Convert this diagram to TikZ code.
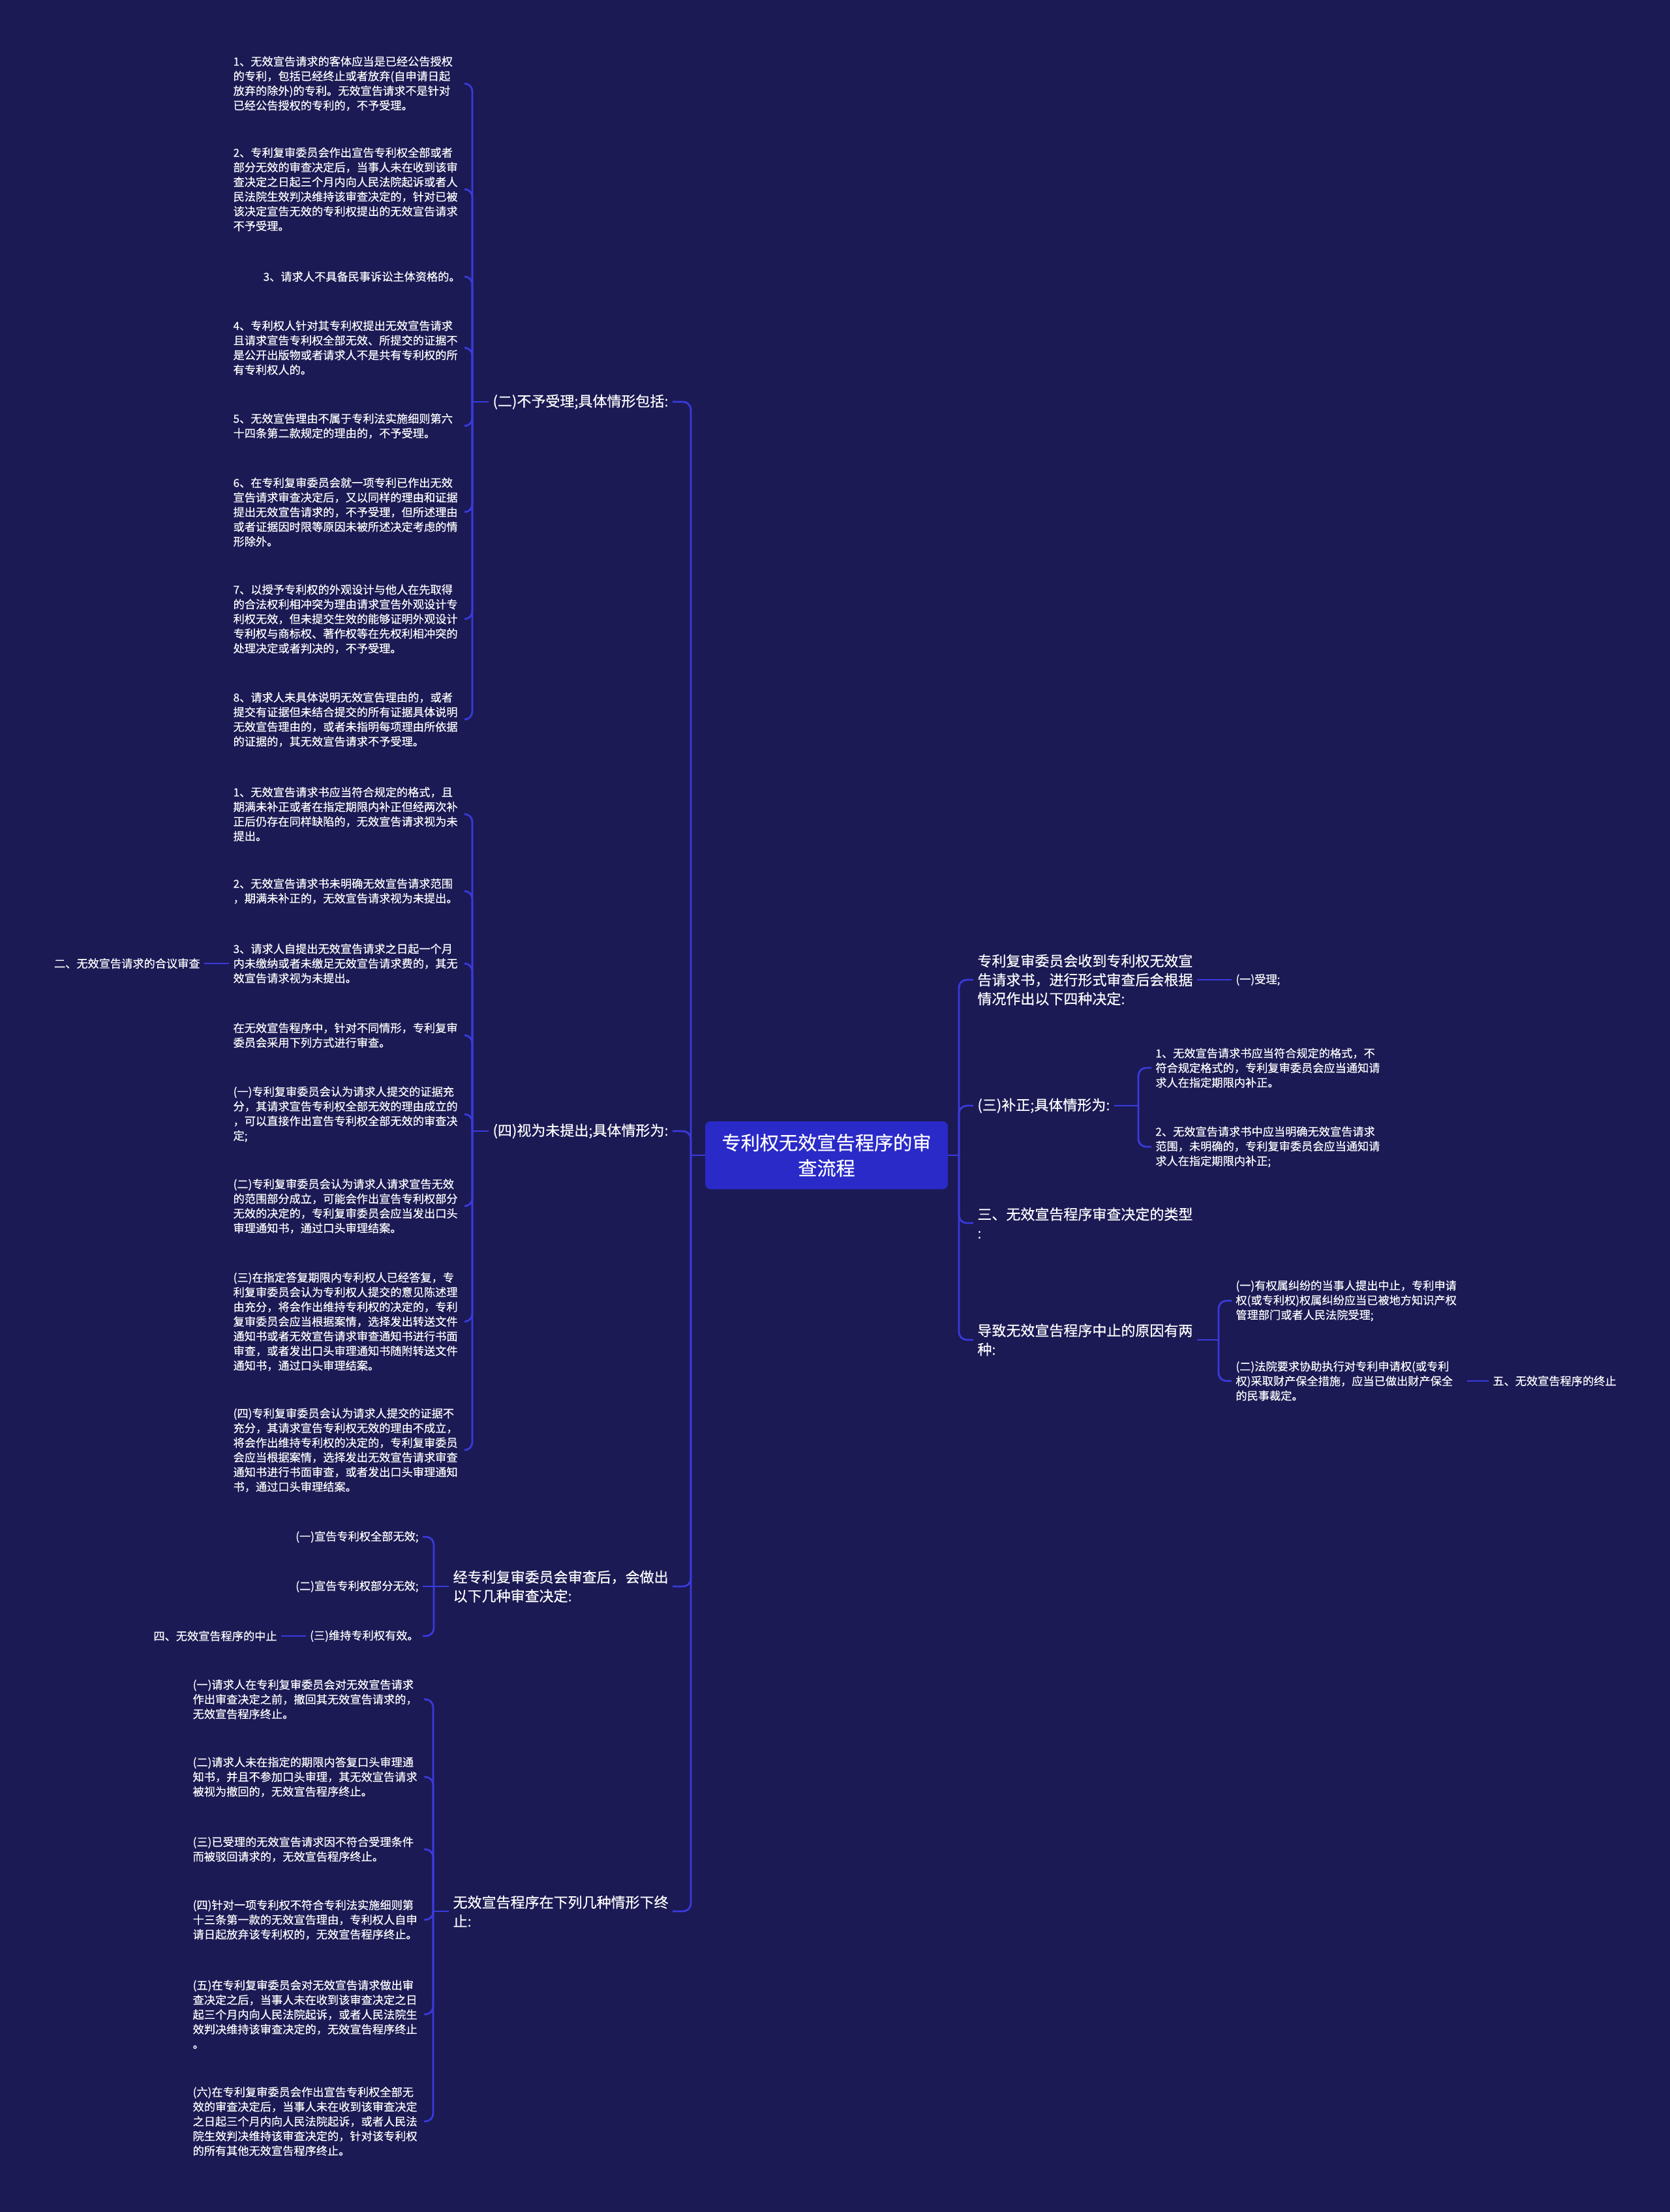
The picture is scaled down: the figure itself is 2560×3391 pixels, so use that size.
\documentclass[tikz,border=0pt]{standalone}
\usepackage{fontspec}
\setmainfont{Noto Sans CJK SC}[FakeBold=0.3]
\definecolor{bgc}{RGB}{27,26,84}
\definecolor{linec}{RGB}{58,58,222}
\definecolor{rootc}{RGB}{42,42,200}
\begin{document}
\begin{tikzpicture}[x=0.5pt,y=-0.5pt,
  conn/.style={draw=linec,line width=1.4pt,rounded corners=6pt},
  leaf/.style={text=white,font=\fontsize{8.6}{11.25}\selectfont,inner sep=3pt,align=left},
  leafw/.style={leaf,text width=174pt},
  mid/.style={text=white,font=\fontsize{11}{14.5}\selectfont,inner sep=3pt,align=left},
  rootbox/.style={fill=rootc,text=white,rounded corners=4pt,font=\fontsize{14.6}{19.5}\selectfont,align=center,minimum width=186pt,minimum height=52pt,inner sep=3pt}]
\fill[bgc] (0,0) rectangle (2560,3391);
\useasboundingbox (0,0) rectangle (2560,3391);

\node[rootbox] (root) at (1267,1771) {专利权无效宣告程序的审\\查流程};
\coordinate (tR) at (1470,1771);
\coordinate (tL) at (1059,1771);

% ---------- right side ----------
\node[mid,anchor=west] (r1) at (1492,1502) {专利复审委员会收到专利权无效宣\\告请求书，进行形式审查后会根据\\情况作出以下四种决定:};
\node[leaf,anchor=west] (r1a) at (1888,1502) {(一)受理;};
\node[mid,anchor=west] (r2) at (1492,1695) {(三)补正;具体情形为:};
\coordinate (b2) at (1745,1695);
\node[leafw,anchor=west] (r2a) at (1765,1637) {1、无效宣告请求书应当符合规定的格式，不\\符合规定格式的，专利复审委员会应当通知请\\求人在指定期限内补正。};
\node[leafw,anchor=west] (r2b) at (1765,1758) {2、无效宣告请求书中应当明确无效宣告请求\\范围，未明确的，专利复审委员会应当通知请\\求人在指定期限内补正;};
\node[mid,anchor=west] (r3) at (1492,1875) {三、无效宣告程序审查决定的类型\\:};
\node[mid,anchor=west] (r4) at (1492,2054) {导致无效宣告程序中止的原因有两\\种:};
\coordinate (b4) at (1868,2054);
\node[leafw,anchor=west] (r4a) at (1888,1994) {(一)有权属纠纷的当事人提出中止，专利申请\\权(或专利权)权属纠纷应当已被地方知识产权\\管理部门或者人民法院受理;};
\node[leafw,anchor=west] (r4b) at (1888,2117) {(二)法院要求协助执行对专利申请权(或专利\\权)采取财产保全措施，应当已做出财产保全\\的民事裁定。};
\node[leaf,anchor=west] (r5) at (2282,2117) {五、无效宣告程序的终止};

\draw[conn] (root.east) -- (tR);
\draw[conn] (tR) |- (r1.west);
\draw[conn] (tR) |- (r2.west);
\draw[conn] (tR) |- (r3.west);
\draw[conn] (tR) |- (r4.west);
\draw[conn] (r1.east) -- (r1a.west);
\draw[conn] (r2.east) -- (b2);
\draw[conn] (b2) |- (r2a.west);
\draw[conn] (b2) |- (r2b.west);
\draw[conn] (r4.east) -- (b4);
\draw[conn] (b4) |- (r4a.west);
\draw[conn] (b4) |- (r4b.west);
\draw[conn] (r4b.east) -- (r5.west);

% ---------- left side ----------
\node[mid,anchor=east] (l1) at (1031,616) {(二)不予受理;具体情形包括:};
\coordinate (b1) at (724,616);
\node[leafw,anchor=east] (l1c1) at (712,128) {1、无效宣告请求的客体应当是已经公告授权\\的专利，包括已经终止或者放弃(自申请日起\\放弃的除外)的专利。无效宣告请求不是针对\\已经公告授权的专利的，不予受理。};
\node[leafw,anchor=east] (l1c2) at (712,290) {2、专利复审委员会作出宣告专利权全部或者\\部分无效的审查决定后，当事人未在收到该审\\查决定之日起三个月内向人民法院起诉或者人\\民法院生效判决维持该审查决定的，针对已被\\该决定宣告无效的专利权提出的无效宣告请求\\不予受理。};
\node[leaf,anchor=east] (l1c3) at (712,424) {3、请求人不具备民事诉讼主体资格的。};
\node[leafw,anchor=east] (l1c4) at (712,533) {4、专利权人针对其专利权提出无效宣告请求\\且请求宣告专利权全部无效、所提交的证据不\\是公开出版物或者请求人不是共有专利权的所\\有专利权人的。};
\node[leafw,anchor=east] (l1c5) at (712,653) {5、无效宣告理由不属于专利法实施细则第六\\十四条第二款规定的理由的，不予受理。};
\node[leafw,anchor=east] (l1c6) at (712,785) {6、在专利复审委员会就一项专利已作出无效\\宣告请求审查决定后，又以同样的理由和证据\\提出无效宣告请求的，不予受理，但所述理由\\或者证据因时限等原因未被所述决定考虑的情\\形除外。};
\node[leafw,anchor=east] (l1c7) at (712,949) {7、以授予专利权的外观设计与他人在先取得\\的合法权利相冲突为理由请求宣告外观设计专\\利权无效，但未提交生效的能够证明外观设计\\专利权与商标权、著作权等在先权利相冲突的\\处理决定或者判决的，不予受理。};
\node[leafw,anchor=east] (l1c8) at (712,1103) {8、请求人未具体说明无效宣告理由的，或者\\提交有证据但未结合提交的所有证据具体说明\\无效宣告理由的，或者未指明每项理由所依据\\的证据的，其无效宣告请求不予受理。};

\node[mid,anchor=east] (l2) at (1031,1734) {(四)视为未提出;具体情形为:};
\coordinate (bb2) at (724,1734);
\node[leafw,anchor=east] (l2c1) at (712,1248) {1、无效宣告请求书应当符合规定的格式，且\\期满未补正或者在指定期限内补正但经两次补\\正后仍存在同样缺陷的，无效宣告请求视为未\\提出。};
\node[leafw,anchor=east] (l2c2) at (712,1366) {2、无效宣告请求书未明确无效宣告请求范围\\，期满未补正的，无效宣告请求视为未提出。};
\node[leafw,anchor=east] (l2c3) at (712,1477) {3、请求人自提出无效宣告请求之日起一个月\\内未缴纳或者未缴足无效宣告请求费的，其无\\效宣告请求视为未提出。};
\node[leafw,anchor=east] (l2c4) at (712,1587) {在无效宣告程序中，针对不同情形，专利复审\\委员会采用下列方式进行审查。};
\node[leafw,anchor=east] (l2c5) at (712,1708) {(一)专利复审委员会认为请求人提交的证据充\\分，其请求宣告专利权全部无效的理由成立的\\，可以直接作出宣告专利权全部无效的审查决\\定;};
\node[leafw,anchor=east] (l2c6) at (712,1849) {(二)专利复审委员会认为请求人请求宣告无效\\的范围部分成立，可能会作出宣告专利权部分\\无效的决定的，专利复审委员会应当发出口头\\审理通知书，通过口头审理结案。};
\node[leafw,anchor=east] (l2c7) at (712,2026) {(三)在指定答复期限内专利权人已经答复，专\\利复审委员会认为专利权人提交的意见陈述理\\由充分，将会作出维持专利权的决定的，专利\\复审委员会应当根据案情，选择发出转送文件\\通知书或者无效宣告请求审查通知书进行书面\\审查，或者发出口头审理通知书随附转送文件\\通知书，通过口头审理结案。};
\node[leafw,anchor=east] (l2c8) at (712,2223) {(四)专利复审委员会认为请求人提交的证据不\\充分，其请求宣告专利权无效的理由不成立，\\将会作出维持专利权的决定的，专利复审委员\\会应当根据案情，选择发出无效宣告请求审查\\通知书进行书面审查，或者发出口头审理通知\\书，通过口头审理结案。};
\node[leaf,anchor=east] (x2) at (313,1477) {二、无效宣告请求的合议审查};

\node[mid,anchor=east] (l3) at (1031,2432) {经专利复审委员会审查后，会做出\\以下几种审查决定:};
\coordinate (b3) at (665,2432);
\node[leaf,anchor=east] (l3c1) at (648,2356) {(一)宣告专利权全部无效;};
\node[leaf,anchor=east] (l3c2) at (648,2432) {(二)宣告专利权部分无效;};
\node[leaf,anchor=east] (l3c3) at (648,2508) {(三)维持专利权有效。};
\node[leaf,anchor=east] (x4) at (431,2508) {四、无效宣告程序的中止};

\node[mid,anchor=east] (l4) at (1031,2930) {无效宣告程序在下列几种情形下终\\止:};
\coordinate (b5) at (664,2930);
\node[leafw,anchor=east] (l4c1) at (650,2605) {(一)请求人在专利复审委员会对无效宣告请求\\作出审查决定之前，撤回其无效宣告请求的，\\无效宣告程序终止。};
\node[leafw,anchor=east] (l4c2) at (650,2724) {(二)请求人未在指定的期限内答复口头审理通\\知书，并且不参加口头审理，其无效宣告请求\\被视为撤回的，无效宣告程序终止。};
\node[leafw,anchor=east] (l4c3) at (650,2835) {(三)已受理的无效宣告请求因不符合受理条件\\而被驳回请求的，无效宣告程序终止。};
\node[leafw,anchor=east] (l4c4) at (650,2943) {(四)针对一项专利权不符合专利法实施细则第\\十三条第一款的无效宣告理由，专利权人自申\\请日起放弃该专利权的，无效宣告程序终止。};
\node[leafw,anchor=east] (l4c5) at (650,3088) {(五)在专利复审委员会对无效宣告请求做出审\\查决定之后，当事人未在收到该审查决定之日\\起三个月内向人民法院起诉，或者人民法院生\\效判决维持该审查决定的，无效宣告程序终止\\。};
\node[leafw,anchor=east] (l4c6) at (650,3252) {(六)在专利复审委员会作出宣告专利权全部无\\效的审查决定后，当事人未在收到该审查决定\\之日起三个月内向人民法院起诉，或者人民法\\院生效判决维持该审查决定的，针对该专利权\\的所有其他无效宣告程序终止。};

\draw[conn] (root.west) -- (tL);
\draw[conn] (tL) |- (l1.east);
\draw[conn] (tL) |- (l2.east);
\draw[conn] (tL) |- (l3.east);
\draw[conn] (tL) |- (l4.east);

\draw[conn] (l1.west) -- (b1);
\foreach \n in {l1c1,l1c2,l1c3,l1c4,l1c5,l1c6,l1c7,l1c8} \draw[conn] (b1) |- (\n.east);

\draw[conn] (l2.west) -- (bb2);
\foreach \n in {l2c1,l2c2,l2c3,l2c4,l2c5,l2c6,l2c7,l2c8} \draw[conn] (bb2) |- (\n.east);
\draw[conn] (l2c3.west) -- (x2.east);

\draw[conn] (l3.west) -- (b3);
\draw[conn] (b3) |- (l3c1.east);
\draw[conn] (b3) -- (l3c2.east);
\draw[conn] (b3) |- (l3c3.east);
\draw[conn] (l3c3.west) -- (x4.east);

\draw[conn] (l4.west) -- (b5);
\foreach \n in {l4c1,l4c2,l4c3,l4c4,l4c5,l4c6} \draw[conn] (b5) |- (\n.east);
\end{tikzpicture}
\end{document}
